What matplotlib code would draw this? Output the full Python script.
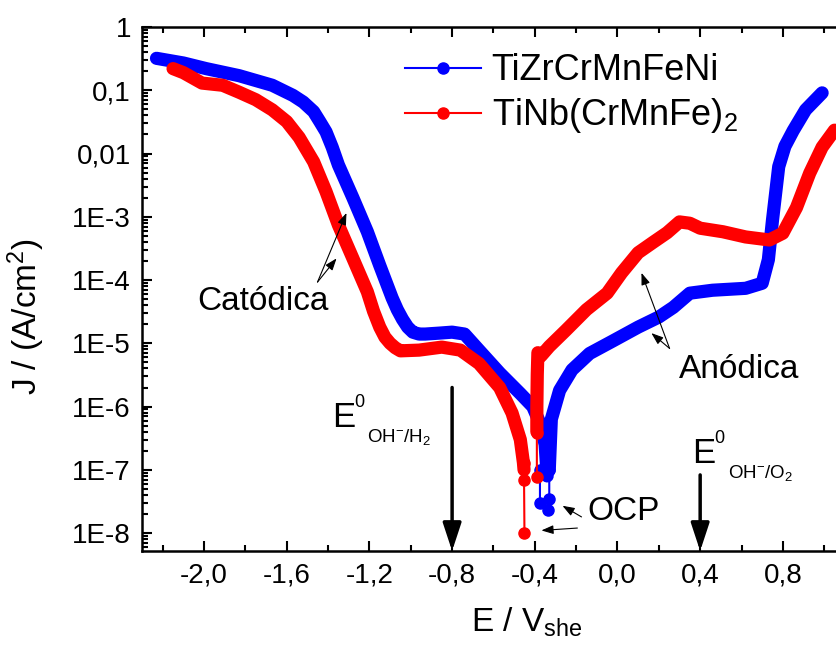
import numpy as np
import matplotlib
matplotlib.use('Agg')
import matplotlib.pyplot as plt
from matplotlib.ticker import FixedLocator, MultipleLocator, LogLocator, NullFormatter

plt.rcParams['font.family'] = 'Liberation Sans'
plt.rcParams['mathtext.fontset'] = 'custom'
plt.rcParams['mathtext.rm'] = 'Liberation Sans'
plt.rcParams['mathtext.it'] = 'Liberation Sans:italic'
plt.rcParams['mathtext.bf'] = 'Liberation Sans:bold'
plt.rcParams['axes.unicode_minus'] = False

# TiZrCrMnFeNi (blue)
blueCatE = [-2.23, -2.10, -1.99, -1.83, -1.67, -1.57, -1.52, -1.47, -1.44, -1.41, -1.38, -1.35,
            -1.28, -1.21, -1.15, -1.09, -1.065, -1.04, -1.015, -0.99, -0.96, -0.93, -0.86,
            -0.80, -0.74, -0.67, -0.57, -0.47, -0.41, -0.37, -0.35, -0.34]
blueCatJ = [0.32, 0.27, 0.22, 0.17, 0.12, 0.083, 0.065, 0.046, 0.032, 0.022, 0.0126, 6.6e-3,
            2.0e-3, 5.8e-4, 1.7e-4, 5.2e-5, 3.4e-5, 2.4e-5, 1.8e-5, 1.5e-5, 1.4e-5, 1.4e-5, 1.45e-5,
            1.5e-5, 1.4e-5, 7.8e-6, 3.4e-6, 1.6e-6, 1.0e-6, 5.0e-7, 2.5e-7, 8.0e-8]
blueAnE = [-0.33, -0.32, -0.28, -0.22, -0.135, -0.02, 0.10, 0.20, 0.27, 0.35, 0.46,
           0.62, 0.70, 0.73, 0.75, 0.78, 0.81, 0.85, 0.91, 0.99]
blueAnJ = [1.0e-7, 6.3e-7, 1.8e-6, 3.8e-6, 6.9e-6, 1.1e-5, 1.8e-5, 2.6e-5, 3.7e-5, 6.2e-5, 6.9e-5,
           7.4e-5, 8.9e-5, 2.1e-4, 8.9e-4, 6.2e-3, 0.013, 0.023, 0.049, 0.091]
blueOcpE = [-0.375, -0.375, np.nan, -0.33, -0.33, -0.335]
blueOcpJ = [1.0e-7, 3.0e-8, np.nan, 1.0e-7, 3.5e-8, 2.3e-8]

# TiNb(CrMnFe)2 (red)
redCatE = [-2.15, -2.10, -2.01, -1.91, -1.83, -1.75, -1.67, -1.60, -1.54, -1.47, -1.41,
           -1.35, -1.28, -1.21, -1.18, -1.15, -1.125, -1.10, -1.075, -1.05, -0.96, -0.85, -0.76,
           -0.67, -0.57, -0.51, -0.47, -0.455, -0.452]
redCatJ = [0.22, 0.19, 0.13, 0.12, 0.093, 0.071, 0.049, 0.032, 0.018, 7.4e-3, 2.5e-3,
           7.4e-4, 2.2e-4, 6.5e-5, 3.2e-5, 1.8e-5, 1.25e-5, 1.0e-5, 8.5e-6, 7.6e-6, 7.8e-6, 8.7e-6, 7.8e-6,
           4.8e-6, 2.0e-6, 7.9e-7, 3.0e-7, 1.3e-7, 1.0e-7]
redAnE = [-0.39, -0.39, -0.388, -0.385, -0.37, -0.33, -0.25, -0.15, -0.05, 0.02, 0.10,
          0.17, 0.24, 0.30, 0.35, 0.40, 0.51, 0.62, 0.735, 0.80, 0.866, 0.93, 0.99, 1.05]
redAnJ = [4.0e-7, 1.0e-6, 3.2e-6, 7.1e-6, 6.3e-6, 8.9e-6, 1.6e-5, 3.4e-5, 6.2e-5, 1.3e-4, 2.7e-4,
          3.9e-4, 5.6e-4, 8.3e-4, 7.9e-4, 6.6e-4, 5.8e-4, 4.8e-4, 4.3e-4, 5.5e-4, 1.4e-3, 4.9e-3,
          0.0126, 0.0234]
redOcpE = [-0.452, -0.452, -0.45, np.nan, -0.39, -0.39]
redOcpJ = [1.3e-7, 7.0e-8, 1.0e-8, np.nan, 3.8e-7, 7.8e-8]

xtickVals = [-2.0, -1.6, -1.2, -0.8, -0.4, 0.0, 0.4, 0.8]
xtickLabels = ['-2,0', '-1,6', '-1,2', '-0,8', '-0,4', '0,0', '0,4', '0,8']
ytickVals = [1e-8, 1e-7, 1e-6, 1e-5, 1e-4, 1e-3, 1e-2, 1e-1, 1]
ytickLabels = ['1E-8', '1E-7', '1E-6', '1E-5', '1E-4', '1E-3', '0,01', '0,1', '1']

fig = plt.figure(figsize=(8.36, 6.45), dpi=100)
ax = fig.add_axes([0.1699, 0.1457, 0.8407, 0.8124])

thick = dict(lw=9.5, solid_capstyle='round', solid_joinstyle='round')
ax.plot(blueCatE, blueCatJ, color='blue', **thick)
ax.plot(blueAnE, blueAnJ, color='blue', **thick)
ax.plot(blueOcpE, blueOcpJ, 'o-', color='blue', lw=1.5, ms=8, label='TiZrCrMnFeNi')
ax.plot(redCatE, redCatJ, color='red', **thick)
ax.plot(redAnE, redAnJ, color='red', **thick)
ax.plot(redOcpE, redOcpJ, 'o-', color='red', lw=1.5, ms=8, label='TiNb(CrMnFe)$_2$')

ax.set_yscale('log')
ax.set_xlim(-2.3, 1.1)
ax.set_ylim(5.2e-9, 1)
ax.yaxis.set_major_locator(FixedLocator(ytickVals))
ax.set_yticklabels(ytickLabels)
ax.yaxis.set_minor_locator(LogLocator(base=10, subs=np.arange(2, 10) * 1.0, numticks=30))
ax.yaxis.set_minor_formatter(NullFormatter())
ax.set_xticks(xtickVals)
ax.set_xticklabels(xtickLabels)
ax.xaxis.set_minor_locator(MultipleLocator(0.2))
ax.tick_params(which='both', direction='in', top=True, right=False, width=1.5)
ax.tick_params(which='major', length=7, labelsize=20, pad=8)
ax.tick_params(which='minor', length=4)
for sp in ax.spines.values():
    sp.set_linewidth(1.8)

ax.set_xlabel(r'E / V$_{\mathregular{she}}$', fontsize=24)
ax.xaxis.set_label_coords(0.547, -0.105)
ax.set_ylabel(r'J / (A/cm$^{\mathregular{2}}$)', fontsize=24)
ax.yaxis.set_label_coords(-0.135, 0.447)

leg = ax.legend(loc='upper left', bbox_to_anchor=(0.374, 0.950), frameon=False, fontsize=26,
                handlelength=2.1, handletextpad=0.3, labelspacing=0.22, borderpad=0, borderaxespad=0)

small = dict(arrowstyle='-|>,head_length=0.6,head_width=0.22', lw=0.8, color='k',
             mutation_scale=12, shrinkA=0, shrinkB=0)
big = dict(arrowstyle='-|>,head_length=0.85,head_width=0.28', lw=2.5, color='k',
           mutation_scale=20, shrinkA=0, shrinkB=0)

# Catodica
ax.text(-1.715, 10**-4.47, 'Catódica', fontsize=24, ha='center', va='baseline')
ax.annotate('', xy=(-1.311, 1.15e-3), xytext=(-1.451, 9.3e-5), arrowprops=small)
ax.annotate('', xy=(-1.359, 2.2e-4), xytext=(-1.451, 9.3e-5), arrowprops=small)

# Anodica
ax.text(0.59, 10**-5.55, 'Anódica', fontsize=24, ha='center', va='baseline')
ax.annotate('', xy=(0.116, 1.3e-4), xytext=(0.252, 8.3e-6), arrowprops=small)
ax.annotate('', xy=(0.164, 1.45e-5), xytext=(0.252, 8.3e-6), arrowprops=small)

# OCP
ax.text(-0.145, 10**-7.79, 'OCP', fontsize=24, ha='left', va='baseline')
ax.annotate('', xy=(-0.266, 2.7e-8), xytext=(-0.174, 1.8e-8), arrowprops=small)
ax.annotate('', xy=(-0.368, 1.1e-8), xytext=(-0.194, 1.2e-8), arrowprops=small)

# equilibrium potentials
for ex, ey, sub, ax_x, ay in [(-1.379, 4.8e-7, r'OH$^{-}$/H$_2$', -0.8, 2.0e-6),
                              (0.363, 1.3e-7, r'OH$^{-}$/O$_2$', 0.4, 8.3e-8)]:
    ax.annotate('', xy=(ax_x, 5.2e-9), xytext=(ax_x, ay), arrowprops=big)
    ax.annotate('E', xy=(ex, ey), xytext=(0, 0), textcoords='offset points',
                fontsize=25, ha='left', va='baseline')
    ax.annotate('0', xy=(ex, ey), xytext=(15.8, 14.0), textcoords='offset points',
                fontsize=13, ha='left', va='baseline')
    ax.annotate(sub, xy=(ex, ey), xytext=(25.2, -10.8), textcoords='offset points',
                fontsize=13.5, ha='left', va='baseline')

fig.savefig('out.png', dpi=100, facecolor='white')
